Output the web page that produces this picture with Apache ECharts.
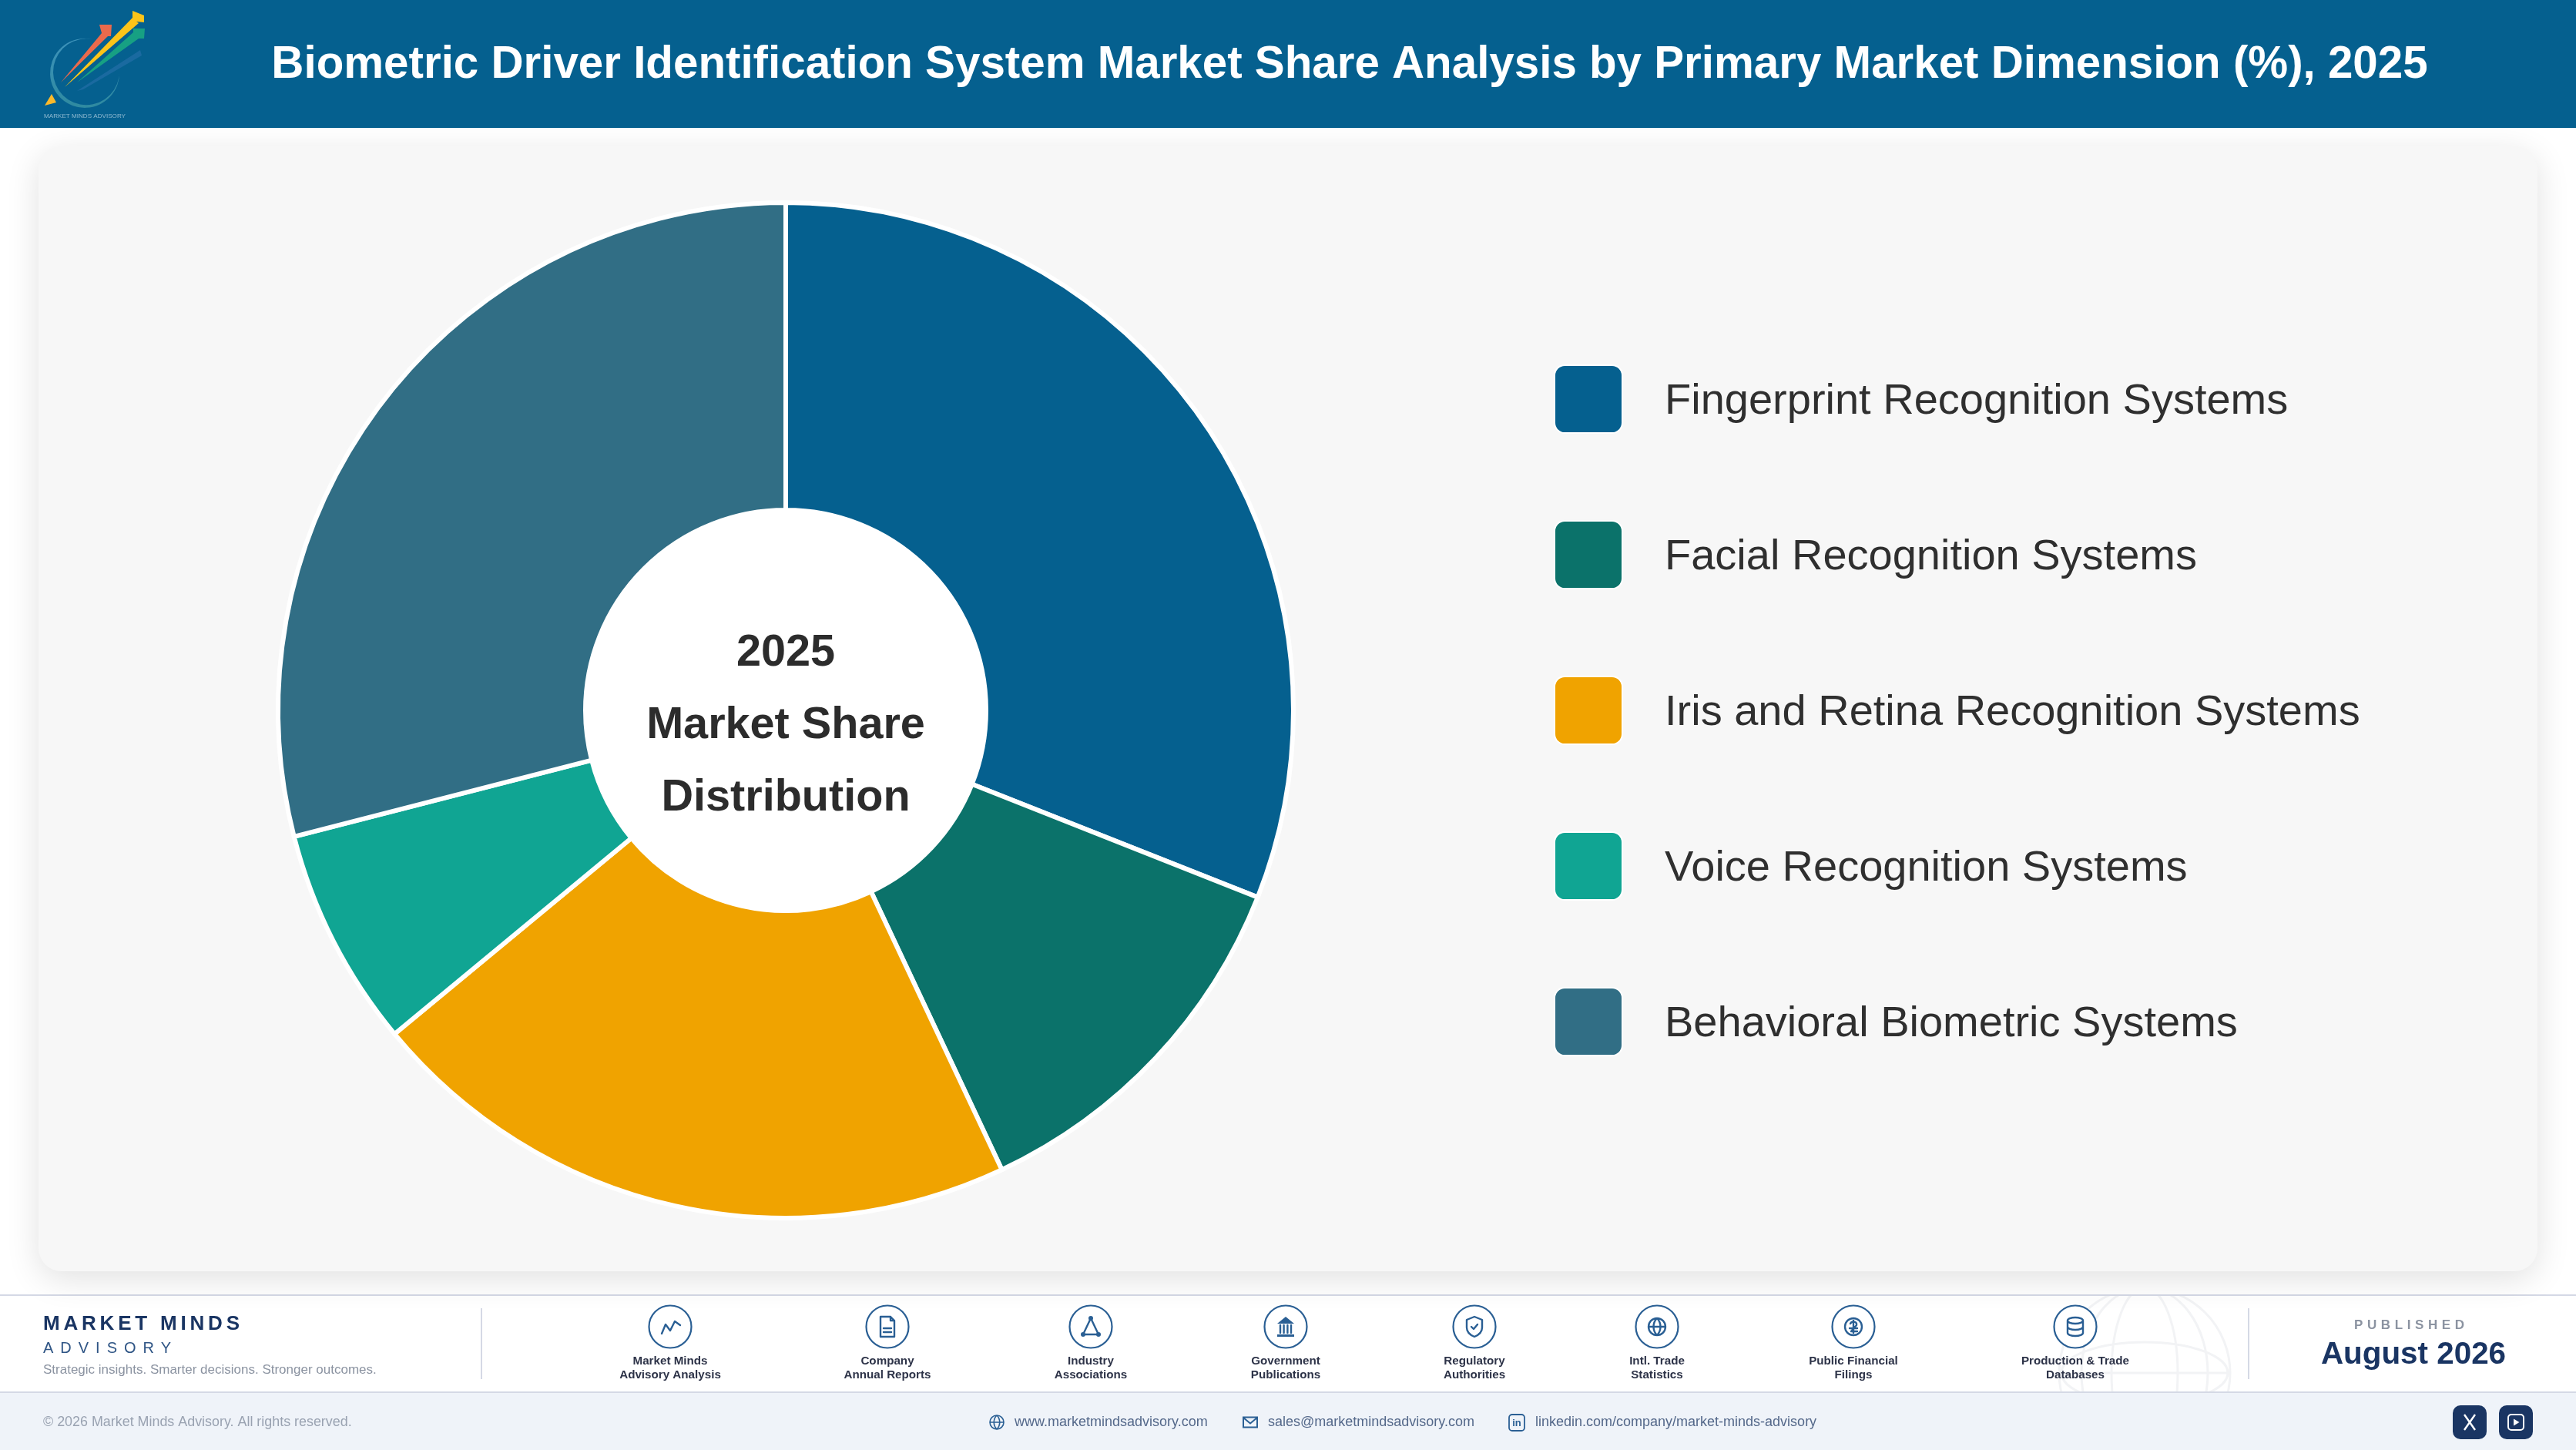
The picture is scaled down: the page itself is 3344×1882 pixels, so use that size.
<!DOCTYPE html>
<html>
<head>
<meta charset="utf-8">
<style>
html,body{margin:0;padding:0;background:#fff;width:3344px;height:1882px;overflow:hidden}
#c{position:absolute;left:0;top:0;width:3344px;height:1882px}
.sp{position:absolute;font-family:"Liberation Sans",Arial,sans-serif;white-space:nowrap;line-height:1;z-index:5}
</style>
<script src="https://cdn.jsdelivr.net/npm/echarts@6/dist/echarts.min.js"></script>
</head>
<body>
<div id="c"></div>
<div class="sp" style="left:56px;top:1704px;font-size:26px;font-weight:700;letter-spacing:4.8px;color:#1a3563">MARKET MINDS</div>
<div class="sp" style="left:56px;top:1739px;font-size:20px;letter-spacing:9px;color:#2f5585">ADVISORY</div>
<div class="sp" style="left:3056px;top:1711px;font-size:17px;font-weight:700;letter-spacing:5.6px;color:#8b93a1;width:150px">PUBLISHED</div>
<script>
const FONT = '"Liberation Sans", Arial, sans-serif';
const chartTitle = 'Biometric Driver Identification System Market Share Analysis by Primary Market Dimension (%), 2025';
const categories = ['Fingerprint Recognition Systems','Facial Recognition Systems','Iris and Retina Recognition Systems','Voice Recognition Systems','Behavioral Biometric Systems'];
const shareValues = [31, 12, 21, 7, 29];
const sliceColors = ['#05608F','#0B726A','#F0A300','#10A593','#316E85'];
const centerLines = ['2025','Market Share','Distribution'];
const sourceLabels = [['Market Minds','Advisory Analysis'],['Company','Annual Reports'],['Industry','Associations'],['Government','Publications'],['Regulatory','Authorities'],['Intl. Trade','Statistics'],['Public Financial','Filings'],['Production & Trade','Databases']];
const sourceX = [870,1152,1416,1669,1914,2151,2406,2694];
const dot = (x,y,r)=>`M${x-r} ${y}a${r} ${r} 0 1 0 ${2*r} 0a${r} ${r} 0 1 0 ${-2*r} 0Z`;
const oval = (rx,ry)=>`M${-rx} 0A${rx} ${ry} 0 1 0 ${rx} 0A${rx} ${ry} 0 1 0 ${-rx} 0Z`;
const sourceIcons = [
 {s:'M-11 9L-6 -3L0 5L6 -7L13 -2'},
 {s:'M-9 -13H4L9 -8V13H-9Z M4 -13V-8H9 M-5 2H5 M-5 7H5'},
 {s:'M0 -11L-10 10H10Z', f:dot(0,-11,3)+dot(-10,10,3)+dot(10,10,3)},
 {s:'M-7 -2V8M-2.4 -2V8M2.4 -2V8M7 -2V8', f:'M0 -13L11 -4H-11Z M-11 10H11V13H-11Z'},
 {s:'M0 -13L10 -9V1C10 7 5 11 0 13C-5 11 -10 7 -10 1V-9Z M-4 0L-1 3L4 -3'},
 {s:dot(0,0,11)+'M-11 0H11 M0 -11C-6 -5 -6 5 0 11C6 5 6 -5 0 -11'},
 {s:dot(0,0,11)+'M-4 -4C-2 -8 5 -7 4 -2L-3 6H5 M-5 2H5 M0 -8V8'},
 {s:'M-10 -8a10 4 0 1 0 20 0a10 4 0 1 0 -20 0Z M-10 -8V8a10 4 0 0 0 20 0V-8 M-10 0a10 4 0 0 0 20 0'}
];

const T = (x,y,text,size,fill,weight,align,extra)=>Object.assign({type:'text',silent:true,style:{x,y,text,fontSize:size,fontFamily:FONT,fontWeight:weight||'normal',fill,align:align||'left',textAlign:align||'left',verticalAlign:'middle',textVerticalAlign:'middle'}},extra||{});
const R = (x,y,w,h,fill,r,style)=>({type:'rect',silent:true,shape:{x,y,width:w,height:h,r:r||0},style:Object.assign({fill},style||{})});
let pathCount=0;
const P = (x,y,d,style)=>{const name='svgp'+(pathCount++);echarts.graphic.registerShape(name,echarts.graphic.extendPath(d));return {type:name,silent:true,x,y,style};};

const g = [];
// footer watermark globe (sits under the cover rectangles)
const GX=2784,GY=1782,GS='#f2f3f5';
g.push(P(GX,GY,oval(111,111)+'M-111 0H111'+oval(43,111)+oval(82,111)+oval(108,40),{fill:'none',stroke:GS,lineWidth:3}));
// covers
g.push(R(0,0,3344,1681,'#ffffff'));
g.push(R(0,1680,3344,2,'#d5d9e5'));
g.push(R(0,1807,3344,75,'#eff3f9'));
g.push(R(0,1806,3344,2,'#d5d9e5'));
// card
g.push(R(50,190,3244,1460,'#f7f7f7',30,{shadowBlur:44,shadowOffsetY:10,shadowColor:'rgba(0,0,0,0.12)'}));
// header
g.push(R(0,0,3344,166,'#05608F'));
// logo
g.push(P(0,0,'M155 93A45 45 0 1 1 120 51A43 43 0 1 0 155 93Z',{fill:{type:'linear',x:0,y:0,x2:0,y2:1,colorStops:[{offset:0,color:'#3e93bb'},{offset:1,color:'#2f8aa0'}]}}));
g.push(P(0,0,'M100 118L182 65L184 72L108 116Z',{fill:'#1a6aa0'}));
g.push(P(0,0,'M100 107L173 42L173 37L188 37L187 50L180 50Z',{fill:'#17a083'}));
g.push(P(0,0,'M79 107L132 43L129 32L145 32L144 47L140 47Z',{fill:'#ea6a4c'}));
g.push(P(0,0,'M84 113L172 23L172 14L187 20L187 29L177 28L180 30Z',{fill:'#fcc419'}));
g.push(P(0,0,'M58 137L67 122L73 133Z',{fill:'#fbb92b'}));
g.push(T(110,151,'MARKET MINDS ADVISORY',8.1,'#8fb9d0','normal','center'));
// pie hole
g.push({type:'circle',silent:true,shape:{cx:1020,cy:922,r:263},style:{fill:'#ffffff'}});
// centre text
const centerY=[848,942,1036];
centerLines.forEach((t,i)=>g.push(T(1020,centerY[i],t,57.6,'#2c2c2c','bold','center',{z:10})));
// footer left
g.push(T(56,1778,'Strategic insights. Smarter decisions. Stronger outcomes.',17,'#8b93a1'));
g.push(R(624,1698,2,92,'#d5d9e5'));
g.push(R(2918,1698,2,92,'#d5d9e5'));
// sources
const IC='#2a5f94';
sourceLabels.forEach((lines,i)=>{
  const x=sourceX[i];
  g.push({type:'circle',silent:true,shape:{cx:x,cy:1722,r:27.5},style:{fill:'#fff',stroke:IC,lineWidth:2.2}});
  const ic=sourceIcons[i];
  if(ic.s)g.push(P(x,1722,ic.s,{fill:'none',stroke:IC,lineWidth:2.4,lineJoin:'round',lineCap:'round'}));
  if(ic.f)g.push(P(x,1722,ic.f,{fill:IC}));
  g.push(T(x,1767,lines[0],15.2,'#2d3348','bold','center'));
  g.push(T(x,1785,lines[1],15.2,'#2d3348','bold','center'));
});
g.push(T(3133,1759,'August 2026',40.4,'#1a3563','bold','center'));
// footer bottom
g.push(T(56,1846,'© 2026 Market Minds Advisory. All rights reserved.',17.9,'#99a2b1'));
const LC='#54688a', LI='#2a5f94';
g.push(P(1294,1846,dot(0,0,9)+'M-9 0H9 M0 -9C-5 -4 -5 4 0 9C5 4 5 -4 0 -9',{fill:'none',stroke:LI,lineWidth:1.6}));
g.push(T(1317,1846,'www.marketmindsadvisory.com',18,LC));
g.push(P(1623,1846,'M-9 -6.5H9V6.5H-9Z M-9 -6L0 1.5L9 -6',{fill:'none',stroke:LI,lineWidth:2}));
g.push(T(1646,1846,'sales@marketmindsadvisory.com',18,LC));
g.push(R(1959,1836,20,21,'none',4,{stroke:LI,lineWidth:1.8}));
g.push(T(1969,1847,'in',13,LI,'bold','center'));
g.push(T(1993,1846,'linkedin.com/company/market-minds-advisory',18,LC));
// social
g.push(R(3184,1824,44,44,'#1a3563',10));
g.push(P(3206,1846,'M-7 -10L7 10 M7 -10L-7 10',{fill:'none',stroke:'#fff',lineWidth:2.4}));
g.push(R(3244,1824,44,44,'#1a3563',10));
g.push(R(3256,1836,20,20,'none',4,{stroke:'#fff',lineWidth:2}));
g.push(P(3266,1846,'M-3 -4.5L4.5 0L-3 4.5Z',{fill:'#fff'}));

const chart = echarts.init(document.getElementById('c'),null,{width:3344,height:1882,renderer:'canvas'});
const swatch='path://M13 0H73A13 13 0 0 1 86 13V73A13 13 0 0 1 73 86H13A13 13 0 0 1 0 73V13A13 13 0 0 1 13 0Z';
chart.setOption({
  animation:false,
  backgroundColor:'#ffffff',
  title:{text:chartTitle,left:1752,top:85,textAlign:'center',textVerticalAlign:'middle',padding:0,z:10,textStyle:{color:'#ffffff',fontFamily:FONT,fontWeight:'bold',fontSize:58.3}},
  graphic:{elements:g.map(e=>Object.assign({z:0,zlevel:0},e))},
  legend:{
    orient:'vertical',left:2017,top:473,padding:0,itemWidth:88,itemHeight:88,itemGap:112,icon:swatch,selectedMode:false,
    formatter:n=>'{a|'+n+'}',
    textStyle:{rich:{a:{padding:[8,0,0,50],fontSize:56,fontFamily:FONT,color:'#2f2f2f'}}}
  },
  series:[{
    type:'pie',center:[1020,922],radius:[260,659],startAngle:90,clockwise:true,silent:true,
    label:{show:false},labelLine:{show:false},
    itemStyle:{borderColor:'#ffffff',borderWidth:6},
    data:categories.map((name,i)=>({name,value:shareValues[i],itemStyle:{color:sliceColors[i]}}))
  }]
});
</script>
</body>
</html>
